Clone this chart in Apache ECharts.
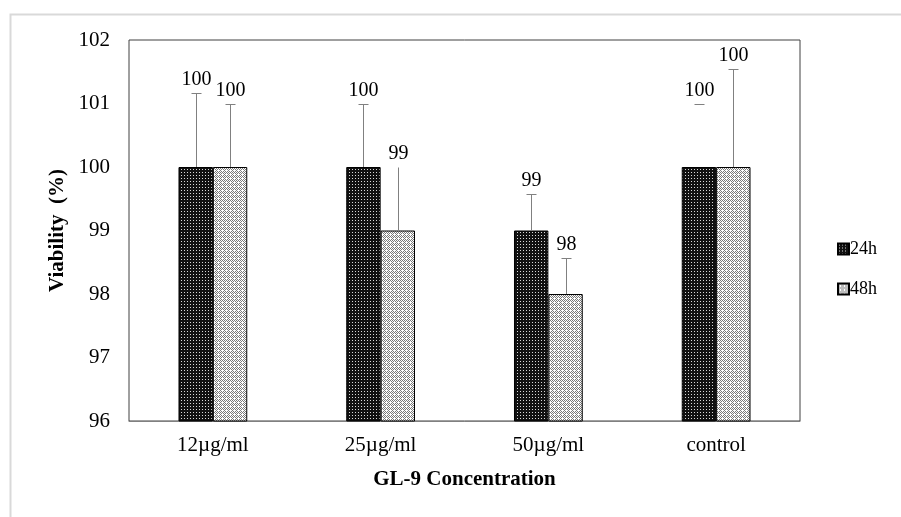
<!DOCTYPE html>
<html>
<head>
<meta charset="utf-8">
<script src="https://cdn.jsdelivr.net/npm/echarts@6/dist/echarts.min.js"></script>
<style>
html,body{margin:0;padding:0;background:#fff;}
#chart{width:901px;height:517px;}
</style>
</head>
<body>
<div id="chart"></div>
<script>
// ---- data ----
const categories = ['12\u00b5g/ml', '25\u00b5g/ml', '50\u00b5g/ml', 'control'];
const seriesNames = ['24h', '48h'];
const values24h = [100, 100, 99, 100];
const values48h = [100, 99, 98, 100];
const errTop24h = [101.16, 101.0, 99.57, 101.0];
const errTop48h = [101.0, 100.0, 98.57, 101.54];
const labels24h = ['100', '100', '99', '100'];
const labels48h = ['100', '99', '98', '100'];
const errLineShown24h = [true, true, true, false];
const errLineShown48h = [true, true, true, true];
const errCapShown24h = [true, true, true, true];
const errCapShown48h = [true, false, true, true];
const yTicks = [96, 97, 98, 99, 100, 101, 102];

// ---- patterns ----
function makePattern(size, bg, fg, pixels) {
  const c = document.createElement('canvas');
  c.width = size; c.height = size;
  const ctx = c.getContext('2d');
  ctx.fillStyle = bg; ctx.fillRect(0, 0, size, size);
  ctx.fillStyle = fg;
  pixels.forEach(p => ctx.fillRect(p[0], p[1], 1, 1));
  return { image: c, repeat: 'repeat' };
}
const pattern24 = makePattern(3, '#111111', '#d8d8d8', [[1, 1]]);
const pattern48 = makePattern(4, '#ffffff', '#7a7a7a', [[0, 0], [2, 0], [1, 1], [3, 1], [0, 2], [1, 3], [3, 3]]);

const BAR_FRAC = 0.205;
const FONT = 'Liberation Serif';

function errSeries(idx, tops, labels, lineShown, capShown, vals) {
  return {
    type: 'custom',
    name: seriesNames[idx] + '_err',
    z: 5,
    silent: true,
    data: categories.map((c, i) => [i, vals[i], tops[i]]),
    renderItem: function (params, api) {
      const i = api.value(0);
      const base = api.coord([i, api.value(1)]);
      const top = api.coord([i, api.value(2)]);
      const band = api.size([1, 0])[0];
      const bw = band * BAR_FRAC;
      const x = Math.round(base[0] + (idx === 0 ? -bw / 2 : bw / 2)) + 0.5;
      const yTop = Math.round(top[1]) + 0.5;
      const children = [];
      if (lineShown[i]) {
        children.push({ type: 'line', shape: { x1: x, y1: base[1], x2: x, y2: yTop }, style: { stroke: '#808080', lineWidth: 1 } });
      }
      if (capShown[i]) {
        children.push({ type: 'line', shape: { x1: x - 5, y1: yTop, x2: x + 5, y2: yTop }, style: { stroke: '#808080', lineWidth: 1 } });
      }
      children.push({ type: 'text', x: x, y: yTop - 14, style: { text: labels[i], fill: '#000', font: '20px "' + FONT + '"', align: 'center', verticalAlign: 'middle' } });
      return { type: 'group', children: children };
    }
  };
}

const chart = echarts.init(document.getElementById('chart'));
chart.setOption({
  animation: false,
  backgroundColor: '#fff',
  graphic: [{
    type: 'rect', left: 8, top: 12, shape: { x: 0, y: 0, width: 900, height: 520 },
    style: { fill: 'none', stroke: '#d9d9d9', lineWidth: 2 }, silent: true
  }],
  grid: { left: 129, right: 101, top: 40, bottom: 96, show: true, borderColor: '#404040', borderWidth: 1 },
  legend: {
    orient: 'vertical', left: 832, top: 235, itemWidth: 11, itemHeight: 11, itemGap: 22,
    icon: 'rect',
    data: seriesNames,
    textStyle: { fontFamily: FONT, fontSize: 18, color: '#000', padding: [0, 0, 0, -4] }
  },
  xAxis: {
    type: 'category', data: categories,
    axisLine: { lineStyle: { color: '#808080', width: 1 } },
    axisTick: { show: false },
    axisLabel: { fontFamily: FONT, fontSize: 21, color: '#000', margin: 14 },
    name: 'GL-9 Concentration', nameLocation: 'middle', nameGap: 48,
    nameTextStyle: { fontFamily: FONT, fontSize: 21, fontWeight: 'bold', color: '#000' }
  },
  yAxis: {
    type: 'value', min: yTicks[0], max: yTicks[yTicks.length - 1], interval: 1,
    axisLine: { show: false }, axisTick: { show: false }, splitLine: { show: false },
    axisLabel: { fontFamily: FONT, fontSize: 21, color: '#000', margin: 19 },
    name: 'Viability  (%)', nameLocation: 'middle', nameGap: 60,
    nameTextStyle: { fontFamily: FONT, fontSize: 21, fontWeight: 'bold', color: '#000' }
  },
  series: [
    { name: seriesNames[0], type: 'bar', data: values24h, barWidth: (BAR_FRAC * 100) + '%', barGap: '0%',
      itemStyle: { color: pattern24, borderColor: '#000', borderWidth: 1 } },
    { name: seriesNames[1], type: 'bar', data: values48h, barWidth: (BAR_FRAC * 100) + '%', barGap: '0%',
      itemStyle: { color: pattern48, borderColor: '#000', borderWidth: 1 } },
    errSeries(0, errTop24h, labels24h, errLineShown24h, errCapShown24h, values24h),
    errSeries(1, errTop48h, labels48h, errLineShown48h, errCapShown48h, values48h)
  ]
});
</script>
</body>
</html>
